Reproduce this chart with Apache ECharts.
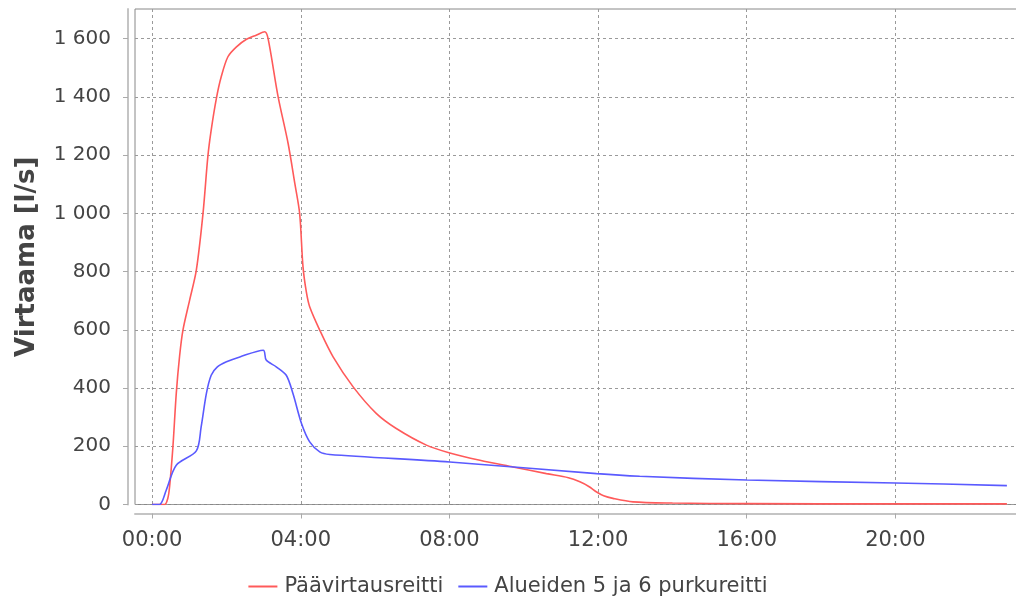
<!DOCTYPE html>
<html>
<head>
<meta charset="utf-8">
<script src="https://cdn.jsdelivr.net/npm/echarts@6/dist/echarts.min.js"></script>
<style>html,body{margin:0;padding:0;background:#fff}#c{width:1016px;height:599px}</style>
</head>
<body>
<div id="c"></div>
<script>
// Data (hours since 00:00, flow l/s)
const seriesNames = ['Päävirtausreitti', 'Alueiden 5 ja 6 purkureitti'];
const mainHours = [0, 0.34, 0.42, 0.47, 0.56, 0.65, 0.74, 0.83, 1.01, 1.19, 1.37, 1.50, 1.59, 1.73, 1.86, 2.04, 2.27, 2.54, 2.8, 3.03, 3.12, 3.39, 3.66, 3.84, 3.97, 4.06, 4.15, 4.24, 4.51, 4.87, 5.41, 6.03, 6.57, 7.38, 8.01, 8.82, 9.71, 10.61, 11.2, 11.51, 11.75, 11.96, 12.15, 12.40, 12.94, 14, 16, 20, 23];
const mainFlow  = [0, 0, 20, 60, 198, 381, 510, 599, 702, 805, 1000, 1195, 1286, 1395, 1469, 1538, 1572, 1598, 1612, 1624, 1601, 1401, 1240, 1103, 1000, 817, 730, 679, 599, 507, 404, 313, 261, 204, 177, 152, 129, 106, 92, 78, 62, 43, 30, 21, 9, 5, 3, 2, 2];
const areaHours = [0, 0.2, 0.38, 0.65, 1.19, 1.32, 1.46, 1.59, 1.75, 2.0, 2.36, 2.99, 3.07, 3.34, 3.61, 3.79, 4.02, 4.24, 4.51, 4.78, 8.01, 11.96, 13.12, 16, 20, 23];
const areaFlow  = [0, 0, 49, 135, 184, 267, 381, 444, 472, 490, 507, 530, 496, 473, 444, 381, 278, 215, 181, 172, 146, 106, 97, 84, 74, 65];
const xTicks = [0, 4, 8, 12, 16, 20];
const yTicks = [0, 200, 400, 600, 800, 1000, 1200, 1400, 1600];
const yTitle = 'Virtaama [l/s]';

const zip = (a, b) => a.map((v, i) => [v, b[i]]);
const fmtNum = v => String(v).replace(/\B(?=(\d{3})+(?!\d))/g, ' ');
const fmtHour = v => (v < 10 ? '0' : '') + v + ':00';
const FONT = 'DejaVu Sans';

const chart = echarts.init(document.getElementById('c'), null, {renderer: 'canvas'});
chart.setOption({
  animation: false,
  backgroundColor: '#fff',
  grid: {left: 135, top: 9, width: 889, height: 495.5, show: true, borderColor: '#888', borderWidth: 1,
         backgroundColor: '#fff', containLabel: false, outerBoundsMode: 'none'},
  legend: {
    top: 571, left: 'center',
    itemWidth: 29, itemHeight: 2, itemGap: 15,
    icon: 'rect',
    textStyle: {fontFamily: FONT, fontSize: 21, color: '#444', padding: [0, 0, 0, 2]},
    data: seriesNames
  },
  xAxis: {
    type: 'value', min: -0.46, max: 23.46, offset: 9,
    axisLine: {show: true, onZero: false, lineStyle: {color: '#c4c4c4', width: 2}},
    axisTick: {show: true, length: 5, customValues: xTicks, lineStyle: {color: '#aaa'}},
    axisLabel: {customValues: xTicks, formatter: fmtHour, fontFamily: FONT, fontSize: 21, color: '#444', margin: 17},
    splitLine: {show: true, lineStyle: {color: '#9a9a9a', type: [3, 3], width: 1}}
  },
  yAxis: {
    type: 'value', min: 0, max: 1702, offset: 7,
    name: yTitle, nameLocation: 'middle', nameRotate: 90, nameGap: 88,
    nameTextStyle: {fontFamily: FONT, fontSize: 26, fontWeight: 'bold', color: '#444'},
    axisLine: {show: true, onZero: false, lineStyle: {color: '#c4c4c4', width: 2}},
    axisTick: {show: true, length: 5, customValues: yTicks, lineStyle: {color: '#aaa'}},
    axisLabel: {customValues: yTicks, formatter: fmtNum, fontFamily: FONT, fontSize: 20, color: '#444', margin: 17},
    splitLine: {show: true, lineStyle: {color: '#9a9a9a', type: [3, 3], width: 1}}
  },
  series: [
    {name: seriesNames[0], type: 'line', data: zip(mainHours, mainFlow), showSymbol: false, symbol: 'none',
     smooth: 0.3, lineStyle: {color: '#ff5a5a', width: 1.6}, itemStyle: {color: '#ff5a5a'}},
    {name: seriesNames[1], type: 'line', data: zip(areaHours, areaFlow), showSymbol: false, symbol: 'none',
     smooth: 0.3, lineStyle: {color: '#5a5aff', width: 1.6}, itemStyle: {color: '#5a5aff'}}
  ]
});
</script>
</body>
</html>
